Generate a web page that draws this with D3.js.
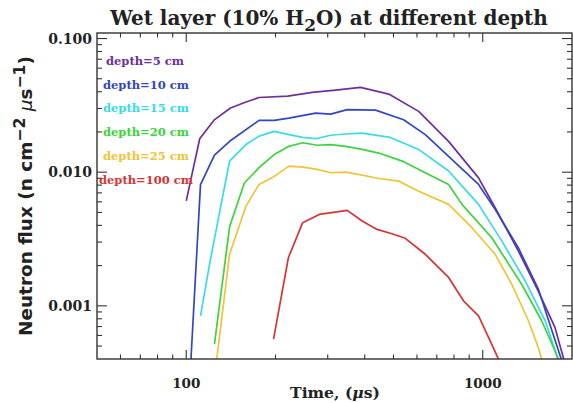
<!DOCTYPE html>
<html><head><meta charset="utf-8">
<script src="https://cdn.jsdelivr.net/npm/d3@7"></script>
<style>body{margin:0;background:#fff}svg{display:block}</style>
</head><body>
<svg id="c" width="573" height="403"></svg>
<script>
// ---- data ----
const seriesNames = ["depth=5 cm","depth=10 cm","depth=15 cm","depth=20 cm","depth=25 cm","depth=100 cm"];
const seriesColors = ["#6b2f9e","#3146c4","#38dce6","#3cd33c","#f0c438","#d83434"];

const t5  = [100,111,124,141,159,176,220,266,319,387,482,608,767,968,1101,1319,1539,1752,1900];
const v5  = [0.0061,0.0178,0.0245,0.0302,0.0335,0.0362,0.0371,0.0395,0.0411,0.0431,0.0384,0.0285,0.0170,0.00907,0.00542,0.00257,0.00129,0.00069,0.00036];
const t10 = [103,111.7,124.5,141.6,176,198,222,273,307,349,435,541,640,767,968,1101,1319,1539,1839];
const v10 = [0.0003,0.00807,0.0134,0.01734,0.0244,0.0244,0.0254,0.0277,0.0272,0.0294,0.0291,0.0247,0.0191,0.01315,0.0081,0.00527,0.00271,0.00134,0.0004];
const t15 = [111.7,120.4,140,159,176,198,222,247,273,307,345,392,488,608,767,968,1160,1390,1624,1800];
const v15 = [0.00084,0.00217,0.0121,0.0161,0.0186,0.0202,0.0191,0.0182,0.0178,0.0189,0.0193,0.0196,0.0182,0.0148,0.0102,0.00574,0.00305,0.00154,0.000773,0.00039];
const t20 = [124.5,140,157,176,198,222,247,277,307,345,392,446,535,640,767,851,1073,1353,1580,1752,1850];
const v20 = [0.000518,0.0039,0.0083,0.0108,0.01355,0.0156,0.0166,0.0159,0.0161,0.0156,0.0148,0.0139,0.0121,0.0099,0.0081,0.00574,0.00323,0.00145,0.000773,0.000461,0.00034];
const t25 = [126,140,159,176,198,222,247,277,307,345,392,446,521,608,767,920,1101,1253,1426,1539,1600];
const v25 = [0.00036,0.00243,0.00557,0.0081,0.0093,0.0111,0.0109,0.0105,0.0099,0.0100,0.0095,0.00897,0.00857,0.00721,0.00574,0.00384,0.00243,0.00145,0.000773,0.000489,0.00036];
const t100 = [197,221,247,281,349,392,440,494,548,640,767,861,968,1046,1124,1160];
const v100 = [0.000564,0.00229,0.00419,0.00483,0.00518,0.00431,0.00373,0.00346,0.0032,0.00243,0.00163,0.00109,0.00084,0.00058,0.00041,0.00035];

const seriesT = [t5,t10,t15,t20,t25,t100];
const seriesV = [v5,v10,v15,v20,v25,v100];

const xMajorLabels = ["100","1000"];
const xMajorValues = [100,1000];
const yMajorLabels = ["0.001","0.010","0.100"];
const yMajorValues = [0.001,0.01,0.1];
const xDomain = [50,2000];
const yDomain = [0.0004,0.11];

// ---- layout ----
const L=97, R=572, T=33, B=359;
const svg = d3.select("#c");
const x = d3.scaleLog().domain(xDomain).range([L,R]);
const y = d3.scaleLog().domain(yDomain).range([B,T]);
const serif = "'DejaVu Serif', serif";
const axisCol = "#333";

svg.append("clipPath").attr("id","clip").append("rect")
  .attr("x",L).attr("y",T).attr("width",R-L).attr("height",B-T);

// lines
const line = d3.line().x(d=>x(d[0])).y(d=>y(d[1]));
const gLines = svg.append("g").attr("clip-path","url(#clip)");
seriesT.forEach((ts,i)=>{
  const pts = ts.map((t,j)=>[t,seriesV[i][j]]);
  gLines.append("path").attr("d",line(pts)).attr("fill","none")
    .attr("stroke",seriesColors[i]).attr("stroke-width",1.7)
    .attr("stroke-linejoin","round");
});

// frame
svg.append("rect").attr("x",L).attr("y",T).attr("width",R-L).attr("height",B-T)
  .attr("fill","none").attr("stroke",axisCol).attr("stroke-width",1.4);

// ticks
const isMajor = v => Math.abs(Math.log10(v)-Math.round(Math.log10(v)))<1e-6;
const gt = svg.append("g").attr("stroke",axisCol).attr("stroke-width",1.1);
x.ticks().forEach(v=>{
  const px = x(v); if(px<=L+0.5||px>=R-0.5) return;
  const len = isMajor(v)?9:4.5;
  gt.append("line").attr("x1",px).attr("x2",px).attr("y1",B).attr("y2",B-len);
  gt.append("line").attr("x1",px).attr("x2",px).attr("y1",T).attr("y2",T+len);
});
y.ticks().forEach(v=>{
  const py = y(v); if(py<=T+0.5||py>=B-0.5) return;
  const len = isMajor(v)?10:5;
  gt.append("line").attr("y1",py).attr("y2",py).attr("x1",L).attr("x2",L+len);
  gt.append("line").attr("y1",py).attr("y2",py).attr("x1",R).attr("x2",R-len);
});

// tick labels
xMajorValues.forEach((v,i)=>{
  svg.append("text").attr("x",x(v)).attr("y",388).attr("text-anchor","middle")
    .attr("font-family",serif).attr("font-weight","bold").attr("font-size",13.5)
    .attr("fill","#222").text(xMajorLabels[i]);
});
yMajorValues.forEach((v,i)=>{
  svg.append("text").attr("x",92).attr("y",y(v)+5).attr("text-anchor","end")
    .attr("font-family",serif).attr("font-weight","bold").attr("font-size",14)
    .attr("fill","#222").text(yMajorLabels[i]);
});

// fit helper
function fit(sel, target){
  const len = sel.node().getComputedTextLength();
  const fs = parseFloat(sel.attr("font-size"));
  sel.attr("font-size", fs*target/len);
}

// title
const title = svg.append("text").attr("x",329).attr("y",25).attr("text-anchor","middle")
  .attr("font-family",serif).attr("font-weight","bold").attr("font-size",18).attr("fill","#222");
title.append("tspan").text("Wet layer (10% H");
title.append("tspan").attr("dy",6).attr("font-size","0.85em").text("2");
title.append("tspan").attr("dy",-6).text("O) at different depth");
fit(title,438);

// x label
const xl = svg.append("text").attr("x",335).attr("y",398).attr("text-anchor","middle")
  .attr("font-family",serif).attr("font-weight","bold").attr("font-size",15).attr("fill","#222");
xl.append("tspan").text("Time, (");
xl.append("tspan").attr("font-style","italic").text("μ");
xl.append("tspan").text("s)");
fit(xl,90);

// y label
const yl = svg.append("text").attr("transform","translate(32,196) rotate(-90)")
  .attr("text-anchor","middle").attr("font-family","'DejaVu Sans', sans-serif")
  .attr("font-weight","bold").attr("font-size",14).attr("fill","#222");
yl.append("tspan").text("Neutron flux (n cm");
yl.append("tspan").attr("dy",-7).attr("font-size","0.85em").text("−2");
yl.append("tspan").attr("dy",7).text(" ");
yl.append("tspan").attr("font-style","italic").attr("font-weight","normal").text("μ");
yl.append("tspan").text("s");
yl.append("tspan").attr("dy",-7).attr("font-size","0.85em").text("−1");
yl.append("tspan").attr("dy",7).text(")");
fit(yl,280);

// legend
const legX = [106,103,103,103,103,99];
seriesNames.forEach((n,i)=>{
  svg.append("text").attr("x",legX[i]).attr("y",65+i*23.7)
    .attr("font-family",serif).attr("font-weight","bold").attr("font-size",11.5)
    .attr("fill",seriesColors[i]).text(n);
});
</script>
</body></html>
